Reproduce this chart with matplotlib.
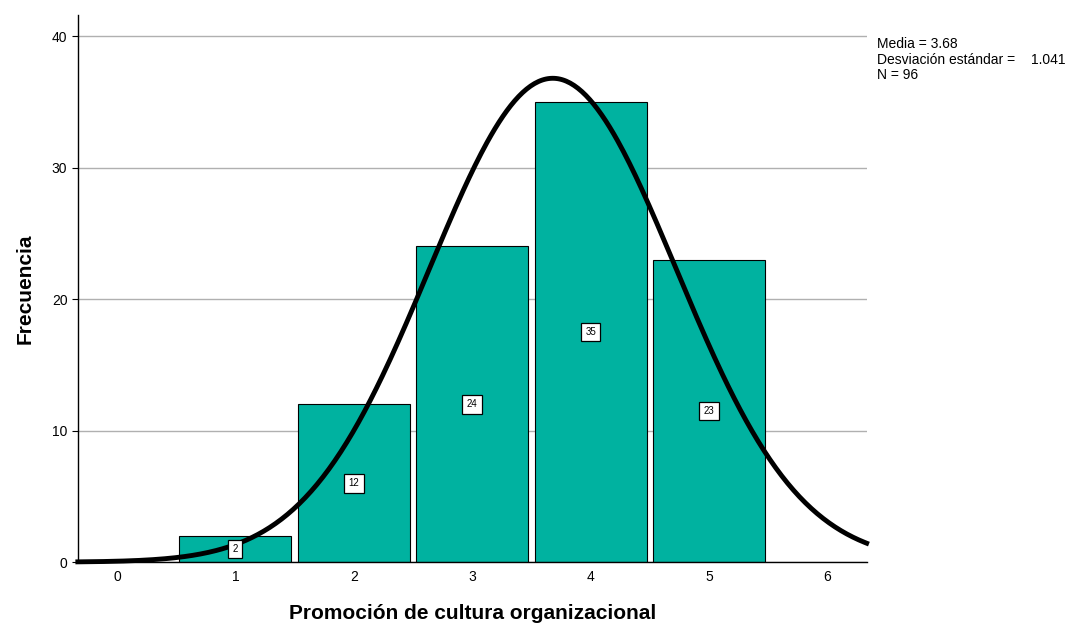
import matplotlib.pyplot as plt
import numpy as np

plt.rcParams['font.family'] = ['Liberation Sans', 'DejaVu Sans']

# datos del histograma
valores = [1, 2, 3, 4, 5]
frecuencias = [2, 12, 24, 35, 23]
media = 3.68
desv = 1.041
n = 96

fig = plt.figure(figsize=(10.66, 6.26), dpi=100)
ax = fig.add_axes([0.073, 0.102, 0.74, 0.874])

ax.bar(valores, frecuencias, width=0.945, color='#00b2a0', edgecolor='black',
       linewidth=0.8, zorder=2)

for v, f in zip(valores, frecuencias):
    ax.text(v, f / 2, str(f), ha='center', va='center', fontsize=7, zorder=4,
            bbox=dict(boxstyle='square,pad=0.45', fc='white', ec='black', lw=0.9))

# curva normal
xs = np.linspace(-0.33, 6.33, 400)
ys = n * np.exp(-0.5 * ((xs - media) / desv) ** 2) / (desv * np.sqrt(2 * np.pi))
ax.plot(xs, ys, color='black', linewidth=3.5, zorder=3, clip_on=False)

ax.set_xlim(-0.33, 6.33)
ax.set_ylim(0, 41.6)
ax.set_xticks(range(0, 7))
ax.set_yticks([0, 10, 20, 30, 40])
ax.tick_params(axis='x', length=0, pad=6, labelsize=10)
ax.tick_params(axis='y', length=4, labelsize=10)
ax.yaxis.grid(True, color='#b0b0b0', linewidth=1, zorder=0)
ax.set_axisbelow(True)
for s in ['top', 'right']:
    ax.spines[s].set_visible(False)
ax.spines['left'].set_linewidth(1)
ax.spines['bottom'].set_linewidth(1)

ax.set_ylabel('Frecuencia', fontsize=15, fontweight='bold', labelpad=12)
ax.set_xlabel('Promoción de cultura organizacional', fontsize=15,
              fontweight='bold', labelpad=14)

fig.text(877 / 1066, 1 - 44 / 626, 'Media = 3.68', fontsize=10, va='center')
fig.text(877 / 1066, 1 - 60 / 626, 'Desviación estándar =', fontsize=10, va='center')
fig.text(1031 / 1066, 1 - 60 / 626, '1.041', fontsize=10, va='center')
fig.text(877 / 1066, 1 - 75 / 626, 'N = 96', fontsize=10, va='center')

fig.savefig('out.png', dpi=100)
